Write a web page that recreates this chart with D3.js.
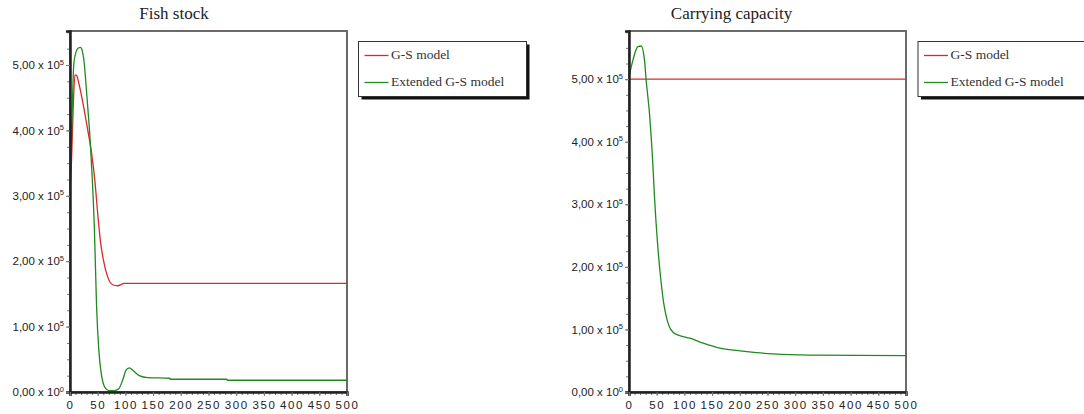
<!DOCTYPE html>
<html>
<head>
<meta charset="utf-8">
<script src="https://cdn.jsdelivr.net/npm/d3@7"></script>
<style>
  body { margin: 0; background: #fff; }
  svg { display: block; }
</style>
</head>
<body>
<svg id="chart_svg" width="1084" height="414"></svg>
<script>
"use strict";

// data, values in units of 1e5
const series_names = ['G-S model', 'Extended G-S model'];
const series_colors = ['#d62a2a', '#1f8a1f'];

const fish_gs_t = [0, 3, 6, 9, 12, 16, 21, 27, 33, 39, 45, 50, 55, 60, 68, 77, 86, 98, 500];
const fish_gs_v = [3.0, 3.6, 4.4, 4.85, 4.84, 4.72, 4.52, 4.25, 3.96, 3.65, 3.22, 2.73, 2.3, 2.03, 1.76, 1.64, 1.625, 1.66, 1.66];

const fish_ext_t = [0, 3, 7, 11, 15, 19, 22, 25, 28, 32, 36, 40, 44, 48, 52, 57, 63, 70, 80, 88, 95, 101, 107, 115, 125, 140, 180, 181, 283, 284, 500];
const fish_ext_v = [3.0, 4.0, 5.03, 5.2, 5.26, 5.27, 5.22, 5.08, 4.8, 4.36, 3.9, 3.3, 2.5, 1.3, 0.64, 0.25, 0.07, 0.02, 0.02, 0.05, 0.18, 0.33, 0.37, 0.32, 0.25, 0.22, 0.21, 0.195, 0.195, 0.18, 0.18];

const cap_gs_t = [0, 500];
const cap_gs_v = [5.0, 5.0];

const cap_ext_t = [0, 1, 7, 16, 22, 28, 31, 37, 43, 46, 52, 58, 63, 68, 73, 80, 89, 110, 134, 164, 197, 230, 260, 327, 500];
const cap_ext_v = [5.0, 5.06, 5.3, 5.52, 5.53, 5.3, 4.98, 4.45, 3.65, 3.12, 2.32, 1.75, 1.4, 1.18, 1.04, 0.95, 0.91, 0.86, 0.78, 0.70, 0.66, 0.63, 0.61, 0.59, 0.58];

// ticks
const x_ticks = [0, 50, 100, 150, 200, 250, 300, 350, 400, 450, 500];
const y_ticks = [0, 1, 2, 3, 4, 5];

const svg = d3.select('#chart_svg');

const make_chart = (p) => {

  const x = d3.scaleLinear().domain([0, 500]).range([p.left, p.right]);
  const y = d3.scaleLinear().domain([0, p.y_max]).range([p.bottom, p.top]);

  const g = svg.append('g');

  // title
  g.append('text')
    .text(p.title)
    .attr('x', p.title_x)
    .attr('y', 19)
    .attr('text-anchor', 'middle')
    .attr('font-family', '"Liberation Serif", "Times New Roman", serif')
    .attr('font-size', 17)
    .attr('fill', '#222');

  // frame
  g.append('rect')
    .attr('x', p.left)
    .attr('y', p.top)
    .attr('width', p.right - p.left)
    .attr('height', p.bottom - p.top)
    .attr('fill', 'none')
    .attr('stroke', '#6a6a6a')
    .attr('stroke-width', 2);

  // lines
  const line = d3.line()
    .x(d => x(d[0]))
    .y(d => y(d[1]))
    .curve(d3.curveMonotoneX);

  p.series.forEach((s, i) => {
    const pts = d3.zip(s.t, s.v);
    g.append('path')
      .datum(pts)
      .attr('d', line)
      .attr('fill', 'none')
      .attr('stroke', series_colors[i])
      .attr('stroke-width', 1.3);
  });

  // y axis, minor ticks
  const y_minor = d3.range(0, p.y_max + 0.001, 0.25);
  g.append('g')
    .attr('transform', `translate(${p.left},0)`)
    .call(d3.axisLeft(y).tickValues(y_minor).tickSize(3).tickFormat(''))
    .call(a => a.select('.domain').remove())
    .selectAll('line').attr('stroke', '#777');

  const ya = g.append('g')
    .attr('transform', `translate(${p.left},0)`)
    .call(d3.axisLeft(y).tickValues(y_ticks).tickSize(4).tickPadding(2).tickFormat(''));
  ya.select('.domain').attr('stroke', '#222').attr('stroke-width', 2.5);
  ya.selectAll('.tick line').attr('stroke', '#777');
  ya.selectAll('.tick text')
    .attr('font-family', '"Liberation Sans", Arial, sans-serif')
    .attr('font-size', 11.5)
    .attr('fill', '#222')
    .each(function (d) {
      const t = d3.select(this);
      t.append('tspan').text(d.toFixed(2).replace('.', ',') + ' x 10');
      t.append('tspan')
        .attr('dy', -4.5)
        .attr('font-size', 7.5)
        .text(d === 0 ? '0' : '5');
    });

  // x axis
  const x_minor = d3.range(0, 501, 10);
  g.append('g')
    .attr('transform', `translate(0,${p.bottom})`)
    .call(d3.axisBottom(x).tickValues(x_minor).tickSize(3).tickFormat(''))
    .call(a => a.select('.domain').remove())
    .selectAll('line').attr('stroke', '#777');

  const xa = g.append('g')
    .attr('transform', `translate(0,${p.bottom})`)
    .call(d3.axisBottom(x).tickValues(x_ticks).tickSize(4).tickPadding(5));
  xa.select('.domain').attr('stroke', '#222').attr('stroke-width', 2.5);
  xa.selectAll('.tick line').attr('stroke', '#777');
  xa.selectAll('.tick text')
    .attr('font-family', '"Liberation Sans", Arial, sans-serif')
    .attr('font-size', 11.5)
    .attr('letter-spacing', 1.6)
    .attr('fill', '#222');

  // legend
  const lg = g.append('g').attr('transform', `translate(${p.legend_x},41.5)`);
  lg.append('rect')
    .attr('x', 3).attr('y', 3)
    .attr('width', 168).attr('height', 55)
    .attr('fill', '#111');
  lg.append('rect')
    .attr('width', 168).attr('height', 55)
    .attr('fill', '#fff')
    .attr('stroke', '#333')
    .attr('stroke-width', 1);

  series_names.forEach((n, i) => {
    const ly = 14 + i * 27;
    lg.append('line')
      .attr('x1', 6).attr('x2', 30)
      .attr('y1', ly).attr('y2', ly)
      .attr('stroke', series_colors[i])
      .attr('stroke-width', 1.3);
    lg.append('text')
      .text(n)
      .attr('x', 32.5)
      .attr('y', ly)
      .attr('dominant-baseline', 'middle')
      .attr('font-family', '"Liberation Serif", "Times New Roman", serif')
      .attr('font-size', 13.5)
      .attr('fill', '#333');
  });
};

make_chart({
  title: 'Fish stock',
  title_x: 174,
  left: 70, right: 347, top: 31, bottom: 392,
  y_max: 5.52,
  legend_x: 358.5,
  series: [
    { t: fish_gs_t, v: fish_gs_v },
    { t: fish_ext_t, v: fish_ext_v }
  ]
});

make_chart({
  title: 'Carrying capacity',
  title_x: 731.5,
  left: 629, right: 906, top: 31, bottom: 392,
  y_max: 5.77,
  legend_x: 918,
  series: [
    { t: cap_gs_t, v: cap_gs_v },
    { t: cap_ext_t, v: cap_ext_v }
  ]
});
</script>
</body>
</html>
